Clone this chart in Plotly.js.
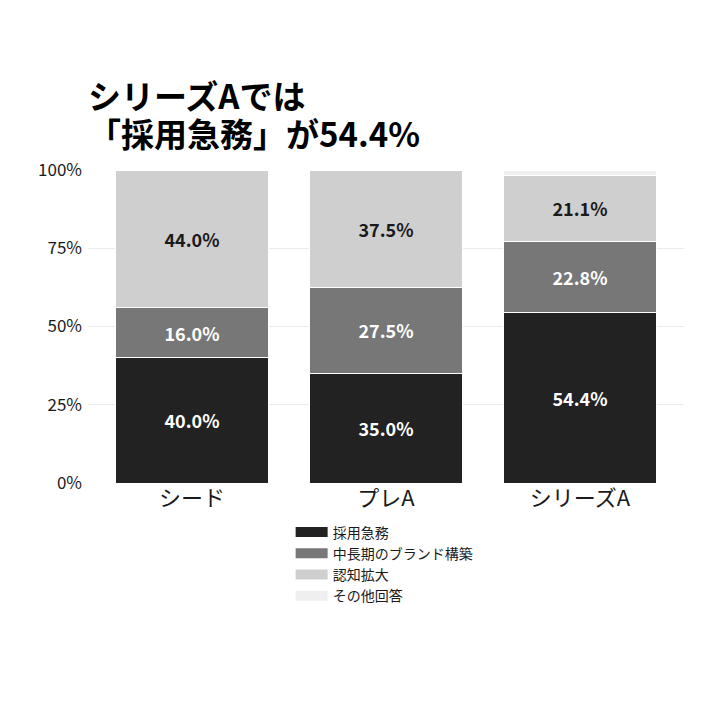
<!DOCTYPE html>
<html><head><meta charset="utf-8">
<script src="https://cdn.plot.ly/plotly-3.0.1.min.js"></script>
<style>body{margin:0;background:#fff}#chart{width:720px;height:710px}</style>
</head><body><div id="chart"></div>
<script>
const categories = ['シード', 'プレA', 'シリーズA'];
const seriesNames = ['採用急務', '中長期のブランド構築', '認知拡大', 'その他回答'];
const saiyou = [40.0, 35.0, 54.4];
const brand = [16.0, 27.5, 22.8];
const ninchi = [44.0, 37.5, 21.1];
const other = [0.0, 0.0, 1.7];
const yTicks = [0, 25, 50, 75, 100];
const titleLines = ['シリーズAでは', '「採用急務」が54.4%'];

const colors = ['#222222', '#777777', '#cfcfcf', '#efefef'];
const textColors = ['#ffffff', '#ffffff', '#1a1a1a', '#1a1a1a'];
const FONT = '"Noto Sans CJK JP", "Noto Sans", sans-serif';
const seriesVals = [saiyou, brand, ninchi, other];

const traces = [];
seriesVals.forEach((vals, i) => {
  traces.push({
    type: 'bar', x: categories, y: vals, name: seriesNames[i],
    marker: {color: colors[i], line: {color: '#ffffff', width: 1}},
    width: 0.79,
    text: i < 3 ? vals.map(v => v.toFixed(1) + '%') : vals.map(() => ''),
    textposition: 'inside', insidetextanchor: 'middle', textangle: 0,
    constraintext: 'none',
    textfont: {family: FONT, size: 18, color: textColors[i], weight: 'bold'},
    showlegend: false, hoverinfo: 'skip'
  });
});
seriesNames.forEach((n, i) => {
  traces.push({
    type: 'scatter', mode: 'lines', x: [categories[0], categories[0]], y: [null, null], name: n,
    line: {color: colors[i], width: 10}, showlegend: true, hoverinfo: 'skip'
  });
});

const layout = {
  width: 720, height: 710,
  paper_bgcolor: '#ffffff', plot_bgcolor: '#ffffff',
  margin: {l: 88, r: 36, t: 170, b: 227},
  barmode: 'stack',
  font: {family: FONT, color: '#1a1a1a'},
  annotations: titleLines.map((t, i) => ({
    text: t, xref: 'paper', x: -0.004, xanchor: 'left',
    yref: 'paper', y: 1 + (i === 0 ? (170 - 95) : (170 - 133)) / 313, yanchor: 'middle',
    showarrow: false,
    font: {family: FONT, size: 33, color: '#000000', weight: 'bold'}
  })),
  xaxis: {
    range: [-0.536, 2.536], showgrid: false, zeroline: false, showline: false,
    ticks: '', tickfont: {size: 22, color: '#1a1a1a'}, fixedrange: true
  },
  yaxis: {
    range: [0, 100], tickvals: yTicks, ticktext: yTicks.map(v => v + '%'),
    showgrid: true, gridcolor: '#ebebeb', gridwidth: 1, zeroline: false,
    showline: false, ticks: '', tickfont: {size: 17, color: '#1a1a1a'}, fixedrange: true,
    ticklabelstandoff: 5
  },
  legend: {
    orientation: 'v', x: 0.34, xanchor: 'left', y: -0.107, yanchor: 'top',
    traceorder: 'normal',
    font: {family: FONT, size: 14, color: '#1a1a1a'},
    itemwidth: 32, tracegroupgap: 0, bgcolor: 'rgba(0,0,0,0)'
  },
  hovermode: false
};

Plotly.newPlot('chart', traces, layout, {displayModeBar: false, staticPlot: true});
</script></body></html>
